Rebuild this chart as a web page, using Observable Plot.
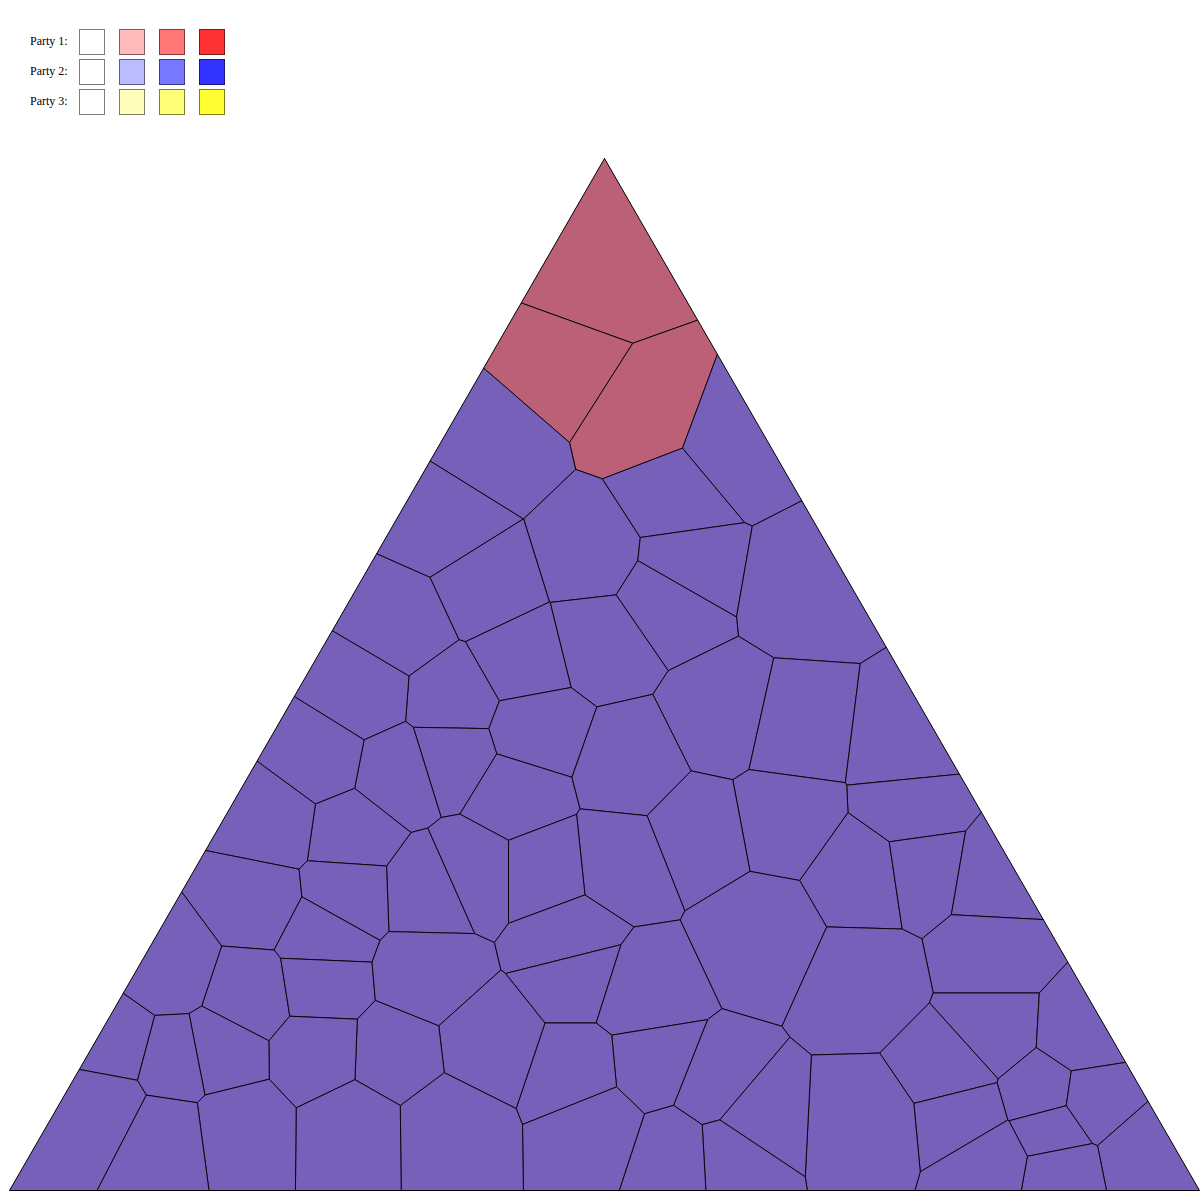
<!DOCTYPE html>
<html><head><meta charset="utf-8">
<script src="https://cdn.jsdelivr.net/npm/d3@7"></script>
<script src="https://cdn.jsdelivr.net/npm/@observablehq/plot@0.6"></script>
<style>
body{margin:0;background:#fff;}
#legend{position:relative;width:1200px;height:130px;font-family:"Liberation Serif","Times New Roman",serif;font-size:12px;color:#000;}
.lab{position:absolute;left:30px;height:26px;line-height:26px;white-space:nowrap;}
.sq{position:absolute;width:26px;height:26px;box-sizing:border-box;border:1px solid rgba(0,0,0,0.5);}
#chart svg{display:block;}
</style></head><body>
<div id="legend"></div><div id="chart"></div>
<script>
// Legend data
const parties = ["Party 1", "Party 2", "Party 3"];
const legendColors = [
  ["#ffffff", "#ffbbbb", "#ff7777", "#ff3333"],
  ["#ffffff", "#bbbbff", "#7777ff", "#3333ff"],
  ["#ffffff", "#ffffbb", "#ffff77", "#ffff33"]
];

// Voronoi seed points (x, y in the chart's frame) and the party that colours each cell
const seedX = [594,564,641,492,592,674,683,735,804,663,602,446,486,400,453,521,361,534,452,397,
  320,514,630,722,794,906,912,783,698,620,543,473,428,350,273,257,346,322,250,169,
  320,426,569,577,640,761,866,920,996,992,863,992,1081,951,1043,1091,1052,1141,1061,963,
  989,867,715,748,730,652,676,577,597,488,447,394,317,353,220,174,238,114,103,163];
const seedY = [282,365,414,448,553,500,563,449,584,598,640,522,586,626,699,660,692,730,756,773,
  758,794,764,718,734,748,809,815,831,862,870,870,890,833,822,902,893,936,994,967,
  983,974,940,972,992,935,874,866,879,954,981,1031,1036,1068,1093,1100,1127,1157,1173,1116,
  1160,1125,1091,1119,1146,1066,1149,1073,1123,1043,1125,1054,1051,1126,1052,1061,1125,1045,1104,1135];
const cellParty = [1,1,1,2,2,2,2,2,2,2,2,2,2,2,2,2,2,2,2,2,
  2,2,2,2,2,2,2,2,2,2,2,2,2,2,2,2,2,2,2,2,
  2,2,2,2,2,2,2,2,2,2,2,2,2,2,2,2,2,2,2,2,
  2,2,2,2,2,2,2,2,2,2,2,2,2,2,2,2,2,2,2,2];
const partyFill = {1: "#bb6077", 2: "#7660ba"};

// Triangle frame (corners)
const triX = [604, 9, 1199];
const triY = [158, 1190, 1190];

// ---- legend ----
const lg = document.getElementById("legend");
parties.forEach((p, r) => {
  const lab = document.createElement("div");
  lab.className = "lab"; lab.style.top = (28 + 30 * r) + "px"; lab.textContent = p + ":";
  lg.appendChild(lab);
  legendColors[r].forEach((c, k) => {
    const s = document.createElement("div");
    s.className = "sq"; s.style.left = (79 + 40 * k) + "px"; s.style.top = (29 + 30 * r) + "px"; s.style.background = c;
    lg.appendChild(s);
  });
});

// ---- chart ----
const seeds = seedX.map((x, i) => ({x, y: seedY[i], party: cellParty[i]}));
const tri = [...triX.map((x, i) => ({x, y: triY[i]})), {x: triX[0], y: triY[0]}];
const plot = Plot.plot({
  width: 1200, height: 1070, margin: 0,
  x: {domain: [0, 1200], axis: null},
  y: {domain: [130, 1200], range: [0, 1070], axis: null},
  color: {type: "identity"},
  marks: [
    Plot.voronoi(seeds, {x: "x", y: "y", fill: d => partyFill[d.party], stroke: "#000", strokeWidth: 1, strokeOpacity: 0.9}),
    Plot.line(tri, {x: "x", y: "y", stroke: "#000", strokeWidth: 1})
  ]
});
// clip the Voronoi cells to the triangle
const xs = plot.scale("x"), ys = plot.scale("y");
const ns = "http://www.w3.org/2000/svg";
const defs = document.createElementNS(ns, "defs");
const cp = document.createElementNS(ns, "clipPath"); cp.setAttribute("id", "tri-clip");
const pg = document.createElementNS(ns, "polygon");
pg.setAttribute("points", triX.map((x, i) => `${xs.apply(x)},${ys.apply(triY[i])}`).join(" "));
cp.appendChild(pg); defs.appendChild(cp); plot.insertBefore(defs, plot.firstChild);
const vg = plot.querySelector('g[aria-label="voronoi"]');
if (vg) vg.setAttribute("clip-path", "url(#tri-clip)");
document.getElementById("chart").appendChild(plot);
</script></body></html>
